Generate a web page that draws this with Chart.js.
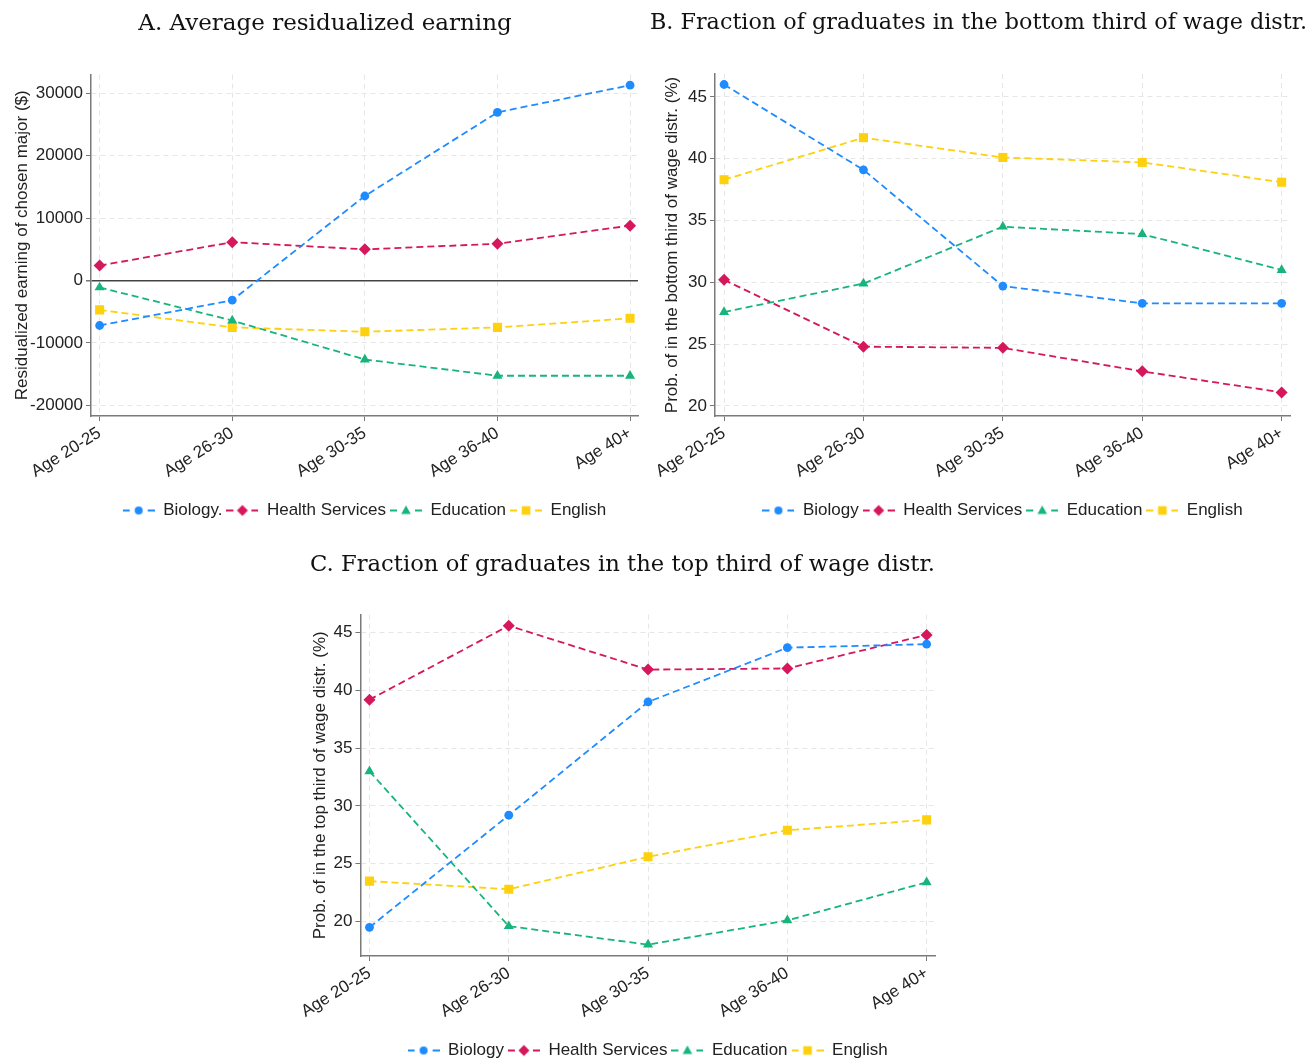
<!DOCTYPE html>
<html>
<head>
<meta charset="utf-8">
<script src="https://cdn.jsdelivr.net/npm/chart.js@4.4.1/dist/chart.umd.min.js"></script>
<style>
  body { margin: 0; background: #fff; width: 1307px; height: 1059px; overflow: hidden; position: relative; }
  .panel { position: absolute; }
</style>
</head>
<body>
<div class="panel" style="left:0px;top:0px;width:650px;height:529px"><canvas id="chartA"></canvas></div>
<div class="panel" style="left:650px;top:0px;width:657px;height:529px"><canvas id="chartB"></canvas></div>
<div class="panel" style="left:300px;top:540px;width:644px;height:529px"><canvas id="chartC"></canvas></div>
<script>
// ------------------------------- DATA

var ageGroups = ['Age 20-25', 'Age 26-30', 'Age 30-35', 'Age 36-40', 'Age 40+']
var majors = ['Biology', 'Health Services', 'Education', 'English']

// A. residualized earnings ($)
var earnBiology = [-7200, -3150, 13550, 26950, 31300]
var earnHealth = [2400, 6150, 5000, 5900, 8800]
var earnEducation = [-1100, -6400, -12650, -15250, -15250]
var earnEnglish = [-4700, -7500, -8200, -7500, -6050]
var earnTicks = [-20000, -10000, 0, 10000, 20000, 30000]

// B. bottom third of wage distr. (%)
var bottomBiology = [46.0, 39.1, 29.7, 28.3, 28.3]
var bottomHealth = [30.2, 24.8, 24.7, 22.8, 21.1]
var bottomEducation = [27.6, 29.9, 34.5, 33.9, 31.0]
var bottomEnglish = [38.3, 41.7, 40.1, 39.7, 38.1]

// C. top third of wage distr. (%)
var topBiology = [19.5, 29.2, 39.0, 43.7, 44.0]
var topHealth = [39.2, 45.6, 41.8, 41.9, 44.8]
var topEducation = [33.0, 19.6, 18.0, 20.1, 23.4]
var topEnglish = [23.5, 22.8, 25.6, 27.9, 28.8]

var pctTicks = [20, 25, 30, 35, 40, 45]

// ------------------------------- STYLE

var colors = ['#1e8bff', '#d5175c', '#17b47c', '#fdd10d']
var shapes = ['circle', 'rectRot', 'triangle', 'rect']
var radii = [4.4, 6, 5.8, 6.4]
var sans = "'Liberation Sans', Arial, sans-serif"
var serif = "'DejaVu Serif', serif"

// little "-o-" icon for the legend, like stata draws it
function legendIcon(i){
    let c = document.createElement('canvas')
    c.width = 32
    c.height = 14
    let g = c.getContext('2d')
    g.strokeStyle = colors[i]
    g.fillStyle = colors[i]
    g.lineWidth = 1.8
    g.beginPath()
    g.moveTo(0, 7); g.lineTo(7, 7)
    g.moveTo(25, 7); g.lineTo(32, 7)
    g.stroke()
    g.beginPath()
    let cx = 16, cy = 7
    if(shapes[i] == 'circle'){
        g.arc(cx, cy, 4, 0, Math.PI*2)
    } else if(shapes[i] == 'rectRot'){
        g.moveTo(cx-5.5, cy); g.lineTo(cx, cy-5.5); g.lineTo(cx+5.5, cy); g.lineTo(cx, cy+5.5)
    } else if(shapes[i] == 'triangle'){
        g.moveTo(cx, cy-5); g.lineTo(cx+4.8, cy+3.6); g.lineTo(cx-4.8, cy+3.6)
    } else {
        g.rect(cx-4.3, cy-4.3, 8.6, 8.6)
    }
    g.closePath()
    g.fill()
    return c
}

function makeSeries(names, series){
    return series.map((vals, i) => ({
        label: names[i],
        data: vals.map((v, k) => ({x: k, y: v})),
        borderColor: colors[i],
        backgroundColor: colors[i],
        borderWidth: 1.8,
        borderDash: [7, 4],
        pointStyle: shapes[i],
        pointRadius: radii[i],
        pointHoverRadius: radii[i],
        pointBackgroundColor: colors[i],
        pointBorderColor: colors[i],
        pointBorderWidth: 0,
        tension: 0,
        fill: false,
        yAxisID: 'y'
    }))
}

function makeChart(id, cfg){
    let ctx = document.getElementById(id)
    let scales = {
        x: {
            type: 'linear',
            min: -0.065,
            max: 4.06,
            afterBuildTicks: (s) => { s.ticks = ageGroups.map((a, k) => ({value: k})) },
            afterFit: (s) => { s.height = cfg.xHeight },
            ticks: {
                callback: (v) => ageGroups[v],
                color: '#222',
                font: { family: sans, size: 17 },
                minRotation: 32,
                maxRotation: 32,
                padding: 2
            },
            grid: {
                color: '#e6e6e6',
                lineWidth: 1,
                tickColor: '#777',
                tickLength: 5,
                tickBorderDash: []
            },
            border: { display: true, color: '#7a7a7a', width: 1.5, dash: [5, 4] }
        },
        y: {
            type: 'linear',
            min: cfg.yMin,
            max: cfg.yMax,
            afterBuildTicks: (s) => { s.ticks = cfg.yTicks.map(v => ({value: v})) },
            afterFit: (s) => { s.width = cfg.yWidth },
            title: {
                display: true,
                text: cfg.yTitle,
                color: '#222',
                font: { family: sans, size: 17 },
                padding: { top: cfg.yTitlePad, bottom: 0 }
            },
            ticks: {
                callback: (v) => String(v),
                color: '#222',
                font: { family: sans, size: 17 },
                padding: 3
            },
            grid: {
                color: (c) => (cfg.zeroLine && c.tick && c.tick.value === 0) ? '#444' : '#e6e6e6',
                lineWidth: (c) => (cfg.zeroLine && c.tick && c.tick.value === 0) ? 1.5 : 1,
                tickColor: '#777',
                tickLength: 5,
                tickBorderDash: []
            },
            border: {
                display: true, color: '#7a7a7a', width: 1.5,
                dash: (c) => (cfg.zeroLine && c.tick && c.tick.value === 0) ? [] : [5, 4]
            }
        }
    }
    if(cfg.rightGap){
        // empty right axis, only to keep the plot off the right edge
        // while the title can still use the whole width
        scales.gap = {
            type: 'linear',
            position: 'right',
            afterFit: (s) => { s.width = cfg.rightGap },
            ticks: { display: false },
            grid: { display: false },
            border: { display: false }
        }
    }
    return new Chart(ctx, {
        type: 'line',
        data: { datasets: makeSeries(cfg.names, cfg.series) },
        options: {
            responsive: true,
            maintainAspectRatio: false,
            animation: false,
            devicePixelRatio: 1,
            layout: { padding: { left: cfg.padLeft, right: cfg.padRight, top: 0, bottom: 0 } },
            plugins: {
                title: {
                    display: true,
                    text: cfg.title,
                    color: '#111',
                    font: { family: serif, size: cfg.titleSize, weight: 'normal' },
                    padding: { top: cfg.titleTop, bottom: cfg.titleBottom }
                },
                legend: {
                    position: 'bottom',
                    fullSize: false,
                    labels: {
                        color: '#222',
                        font: { family: sans, size: 17 },
                        usePointStyle: true,
                        pointStyleWidth: 32,
                        boxHeight: 14,
                        padding: 4,
                        generateLabels: (chart) => {
                            let items = Chart.defaults.plugins.legend.labels.generateLabels(chart)
                            items.forEach((it, i) => { it.pointStyle = legendIcon(i) })
                            return items
                        }
                    }
                },
                tooltip: { enabled: false }
            },
            scales: scales
        }
    })
}

makeChart('chartA', {
    title: 'A. Average residualized earning',
    yTitle: 'Residualized earning of chosen major ($)',
    names: ['Biology.', 'Health Services', 'Education', 'English'],
    series: [earnBiology, earnHealth, earnEducation, earnEnglish],
    yMin: -21700, yMax: 33000, yTicks: earnTicks, zeroLine: true,
    padLeft: 12, yWidth: 79, yTitlePad: 0, padRight: 12, rightGap: 0,
    titleSize: 23, titleTop: 10, titleBottom: 37, xHeight: 82
})

makeChart('chartB', {
    title: 'B. Fraction of graduates in the bottom third of wage distr.',
    yTitle: 'Prob. of in the bottom third of wage distr. (%)',
    names: majors,
    series: [bottomBiology, bottomHealth, bottomEducation, bottomEnglish],
    yMin: 19.19, yMax: 46.85, yTicks: pctTicks, zeroLine: false,
    padLeft: 0, yWidth: 65, yTitlePad: 12, padRight: 0, rightGap: 17,
    titleSize: 22.5, titleTop: 10, titleBottom: 37, xHeight: 82
})

makeChart('chartC', {
    title: 'C. Fraction of graduates in the top third of wage distr.',
    yTitle: 'Prob. of in the top third of wage distr. (%)',
    names: majors,
    series: [topBiology, topHealth, topEducation, topEnglish],
    yMin: 17.02, yMax: 46.56, yTicks: pctTicks, zeroLine: false,
    padLeft: 10, yWidth: 50, yTitlePad: 0, padRight: 9, rightGap: 0,
    titleSize: 23, titleTop: 11, titleBottom: 36, xHeight: 82
})
</script>
</body>
</html>
